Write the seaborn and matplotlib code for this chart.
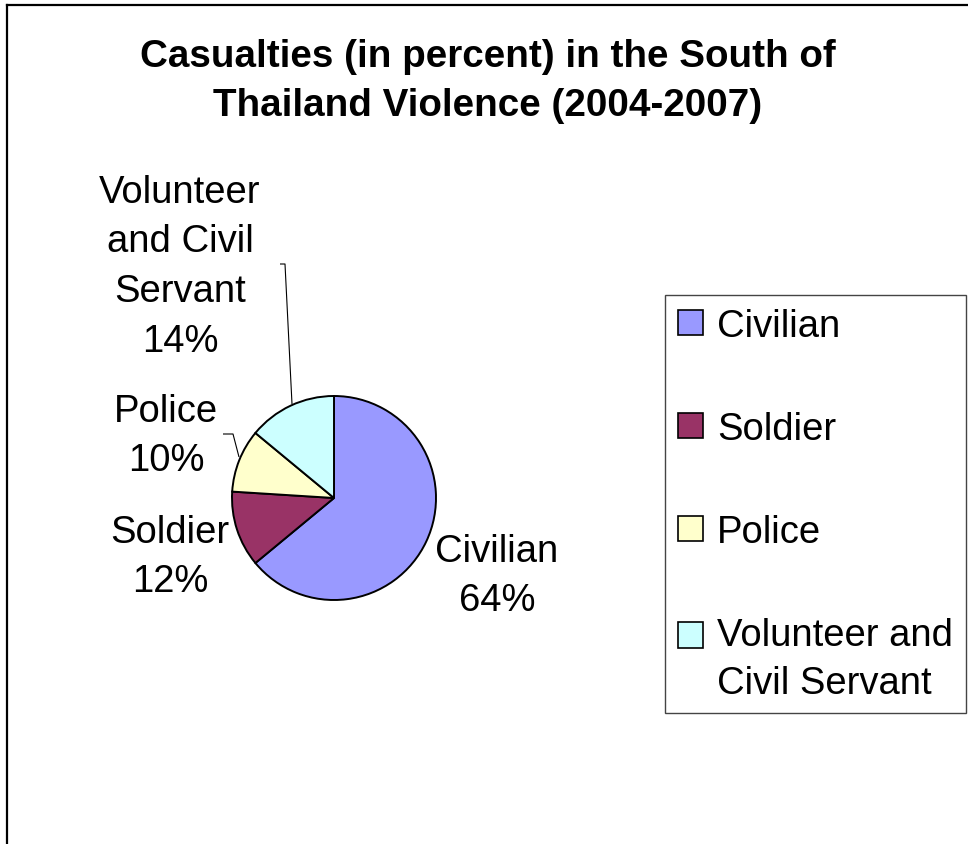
import matplotlib
matplotlib.use("Agg")
import matplotlib.pyplot as plt
import seaborn as sns
from matplotlib.patches import Patch, Rectangle
from matplotlib.legend_handler import HandlerPatch
from matplotlib.font_manager import FontProperties

# Casualty shares by group, in percent
categories = ["Civilian", "Soldier", "Police", "Volunteer and Civil Servant"]
percentages = [64, 12, 10, 14]
slice_labels = ["Civilian", "Soldier", "Police", "Volunteer\nand Civil\nServant"]
legend_labels = ["Civilian", "Soldier", "Police", "Volunteer and\nCivil Servant"]
colors = ["#9999FF", "#993366", "#FFFFCC", "#CCFFFF"]
title = "Casualties (in percent) in the South of\nThailand Violence (2004-2007)"

sns.set_theme(style="white")
plt.rcParams["font.family"] = ["Liberation Sans", "DejaVu Sans"]

W, H = 968, 845
fig = plt.figure(figsize=(W / 100, H / 100), dpi=100)
ax = fig.add_axes([0, 0, 1, 1])

# Pie in pixel-like data coordinates (y grows downward), first slice at 12 o'clock, clockwise
wedges, _ = ax.pie(
    percentages,
    colors=colors,
    startangle=-90,
    counterclock=True,
    center=(334, 499),
    radius=102,
    wedgeprops=dict(edgecolor="black", linewidth=1.4),
)
ax.set_xlim(0, W)
ax.set_ylim(H, 0)
ax.set_aspect("equal")
ax.axis("off")

renderer = fig.canvas.get_renderer()


def spacing_for(gap_px, size, weight="normal"):
    """Line spacing factor giving a baseline-to-baseline gap of gap_px, plus the ascent."""
    fp = FontProperties(family=["Liberation Sans"], size=size, weight=weight)
    _, h, d = renderer.get_text_width_height_descent("lp", fp, ismath=False)
    return (gap_px - d) / (h - d), h - d


# Title
t_size = 27.8
t_ls, t_asc = spacing_for(49, t_size, "bold")
ax.text(488, 67 - t_asc, title, ha="center", va="top", fontsize=t_size,
        fontweight="bold", linespacing=t_ls, color="black",
        multialignment="center")

# Slice labels: (centre x, first baseline y)
lab_size = 27.5
l_ls, l_asc = spacing_for(49.5, lab_size)
label_pos = [(497, 562), (170, 543), (166, 422), (180, 203)]
for name, pct, (x, y) in zip(slice_labels, percentages, label_pos):
    ax.text(x, y - l_asc, f"{name}\n{pct}%", ha="center", va="top",
            fontsize=lab_size, linespacing=l_ls, color="black",
            multialignment="center")

# Leader lines for the two upper-left labels
ax.plot([280, 285, 292], [265, 265, 405], color="black", lw=0.8, solid_capstyle="butt")
ax.plot([223, 233, 239], [435, 435, 458], color="black", lw=0.8, solid_capstyle="butt")

# Legend: swatches sit on the first line of each label
legend_gap_px = 48
g_ls, _ = spacing_for(legend_gap_px, lab_size)


def first_line_swatch(label):
    extra_lines = label.count("\n")
    # half a line gap per extra line, in points
    lift = extra_lines * (legend_gap_px * 72 / 100) / 2

    def make(legend, orig_handle, xdescent, ydescent, width, height, fontsize):
        return Rectangle((-xdescent, -ydescent + lift), width, height)

    return HandlerPatch(patch_func=make)


handles = [Patch(facecolor=c, edgecolor="black", linewidth=1.2) for c in colors]
handler_map = {h: first_line_swatch(lbl) for h, lbl in zip(handles, legend_labels)}
leg = ax.legend(
    handles, legend_labels,
    handler_map=handler_map,
    loc="upper left",
    bbox_to_anchor=(665 / W, 1 - 296 / H),
    bbox_transform=fig.transFigure,
    borderaxespad=0,
    fontsize=lab_size,
    frameon=True,
    fancybox=False,
    shadow=False,
    framealpha=1,
    edgecolor="#444444",
    handlelength=0.65,
    handleheight=0.65,
    handletextpad=0.38,
    labelspacing=1.75,
    borderpad=0.34,
)
leg.get_frame().set_linewidth(1.0)
for t in leg.get_texts():
    t.set_linespacing(g_ls)
    t.set_color("black")

# Outer chart border (left and top edges)
ax.plot([7, 7], [845, 6], color="black", lw=1.6, clip_on=False, solid_capstyle="projecting")
ax.plot([7, 968], [6, 6], color="black", lw=1.6, clip_on=False, solid_capstyle="projecting")

fig.savefig("out.png", dpi=100, facecolor="white")
